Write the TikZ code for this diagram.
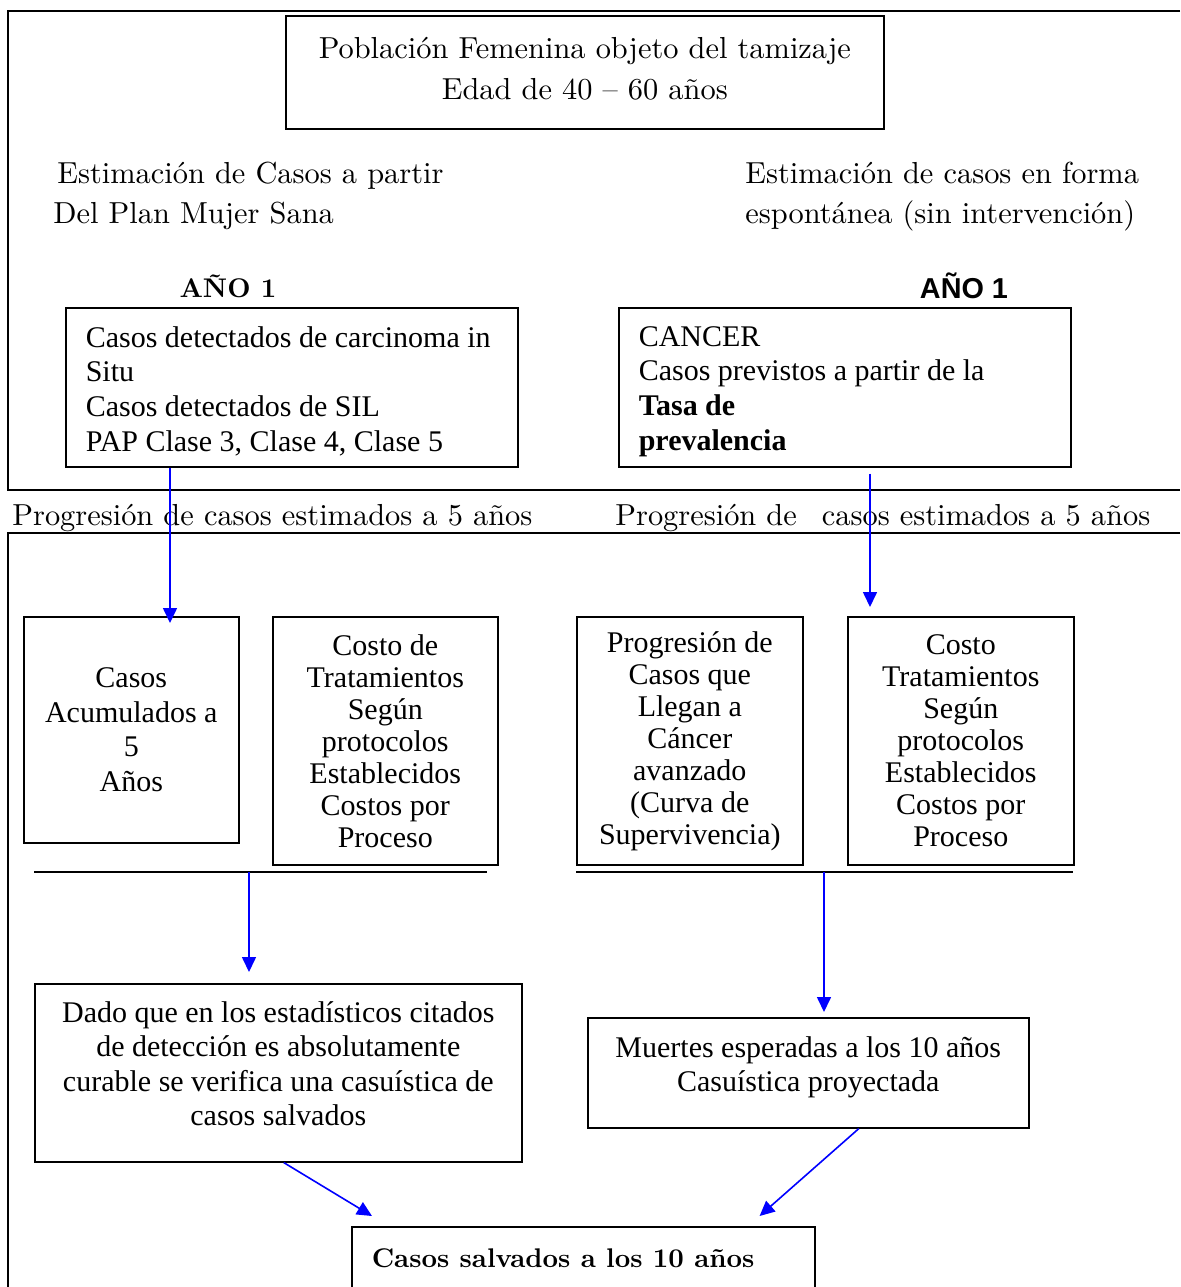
\documentclass[tikz,border=0pt]{standalone}
\usepackage{fontspec}
\setmainfont{lmroman10-regular.otf}[BoldFont=lmroman10-bold.otf]
\newfontfamily\timesf{Liberation Serif}
\newfontfamily\arialf{Liberation Sans}
\usetikzlibrary{arrows.meta}

\begin{document}
\begin{tikzpicture}[
    x=0.5pt, y=-0.5pt,
    every node/.style={inner sep=0pt},
    box/.style={draw, line width=0.8pt, anchor=north west},
    times/.style={font=\timesf\fontsize{15}{17.3}\selectfont},
    timesnarrow/.style={font=\timesf\fontsize{15}{16}\selectfont},
    pala/.style={font=\fontsize{15.2}{20}\selectfont},
    frame/.style={line width=0.9pt},
    rule/.style={line width=0.75pt},
    arrow/.style={-{Triangle[length=7.5pt,width=7pt]}, blue, line width=0.8pt}
]
\useasboundingbox (0,0) rectangle (1180,1287);

% marcos de fondo
\draw[frame] (1180,11) -- (8,11) -- (8,490) -- (1180,490);
\draw[line width=0.6pt] (1180,533) -- (8,533) -- (8,1300);

% cabecera
\node[box, font=\fontsize{15.2}{20.5}\selectfont] (pob) at (285,15) {\parbox[t][56.5pt][t]{299pt}{\vspace*{10.5pt}\centering Población Femenina objeto del tamizaje\\Edad de 40 -- 60 años}};

\node[pala, anchor=base west] (est1) at (53,183) {\parbox[t]{220pt}{\raggedright\hspace*{2pt}Estimación de Casos a partir\\Del Plan Mujer Sana}};
\node[pala, anchor=base west] (est2) at (745,183) {\parbox[t]{220pt}{\raggedright Estimación de casos en forma\\espontánea (sin intervención)}};

\node[font=\bfseries\fontsize{13.5}{16}\selectfont, anchor=base] (ano1) at (228,297) {AÑO 1};
\node[font=\arialf\bfseries\fontsize{14.4}{17}\selectfont, anchor=base] (ano2) at (964,298) {AÑO 1};

% año 1
\node[box, times] (det) at (65,307) {\parbox[t][79.5pt][t]{226pt}{\vspace*{9.3pt}\raggedright\leftskip=10pt Casos detectados de carcinoma in\\Situ\\Casos detectados de SIL\\PAP Clase 3, Clase 4, Clase 5}};
\node[box, times] (cancer) at (618,307) {\parbox[t][79.5pt][t]{226pt}{\vspace*{9.3pt}\raggedright\leftskip=10pt CANCER\\Casos previstos a partir de la\\\textbf{Tasa de}\\\textbf{prevalencia}}};

\node[pala, anchor=base west] (prog1) at (12,525) {Progresión de casos estimados a 5 años};
\node[pala, anchor=base west] (prog2) at (615,525) {Progresión de\hspace{12.5pt}casos estimados a 5 años};

% progresion a 5 años
\node[box, times] (acum) at (23,616) {\parbox[t][113pt][c]{107.5pt}{\centering Casos\\Acumulados a\\5\\Años}};
\node[box, timesnarrow] (costo1) at (272,616) {\parbox[t][124pt][c]{112.5pt}{\centering Costo de\\Tratamientos\\Según\\protocolos\\Establecidos\\Costos por\\Proceso}};
\node[box, timesnarrow] (curva) at (576,616) {\parbox[t][124pt][c]{113pt}{\centering Progresión de\\Casos que\\Llegan a\\Cáncer\\avanzado\\(Curva de\\Supervivencia)}};
\node[box, timesnarrow] (costo2) at (847,616) {\parbox[t][124pt][c]{113pt}{\centering Costo\\Tratamientos\\Según\\protocolos\\Establecidos\\Costos por\\Proceso}};

\coordinate (ul1w) at (34,872);
\coordinate (ul1e) at (487,872);
\coordinate (ul2w) at (576,872);
\coordinate (ul2e) at (1073,872);
\draw[rule] (ul1w) -- (ul1e);
\draw[rule] (ul2w) -- (ul2e);

% resultados
\node[box, times] (dado) at (34,983) {\parbox[t][89pt][t]{243.5pt}{\vspace*{8.7pt}\centering Dado que en los estadísticos citados\\de detección es absolutamente\\curable se verifica una casuística de\\casos salvados}};
\node[box, times] (muertes) at (587,1017) {\parbox[t][55pt][t]{220.5pt}{\vspace*{9.3pt}\centering Muertes esperadas a los 10 años\\Casuística proyectada}};
\node[box, font=\bfseries\fontsize{13.5}{16}\selectfont] (salvados) at (351,1226) {\parbox[t][40pt][t]{231.5pt}{\vspace*{11pt}\hspace*{10pt}Casos salvados a los 10 años}};

% flechas
\coordinate (a1) at (170,0);
\coordinate (a2) at (870,0);
\coordinate (d1) at (249,872);
\coordinate (d2) at (824,872);
\draw[arrow, shorten >=-3.5pt] (det.south -| a1) -- (acum.north -| a1);
\draw[arrow, shorten <=3pt, shorten >=4.5pt] (cancer.south -| a2) -- (costo2.north -| a2);
\draw[arrow, shorten >=5.5pt] (d1) -- (d1 |- dado.north);
\draw[arrow, shorten >=2.5pt] (d2) -- (d2 |- muertes.north);
\draw[arrow] ([xshift=2.75pt]dado.south) -- ([xshift=10.5pt,yshift=5pt]salvados.north west);
\draw[arrow] ([xshift=25.25pt]muertes.south) -- ([xshift=-28pt,yshift=5pt]salvados.north east);

\end{tikzpicture}
\end{document}
